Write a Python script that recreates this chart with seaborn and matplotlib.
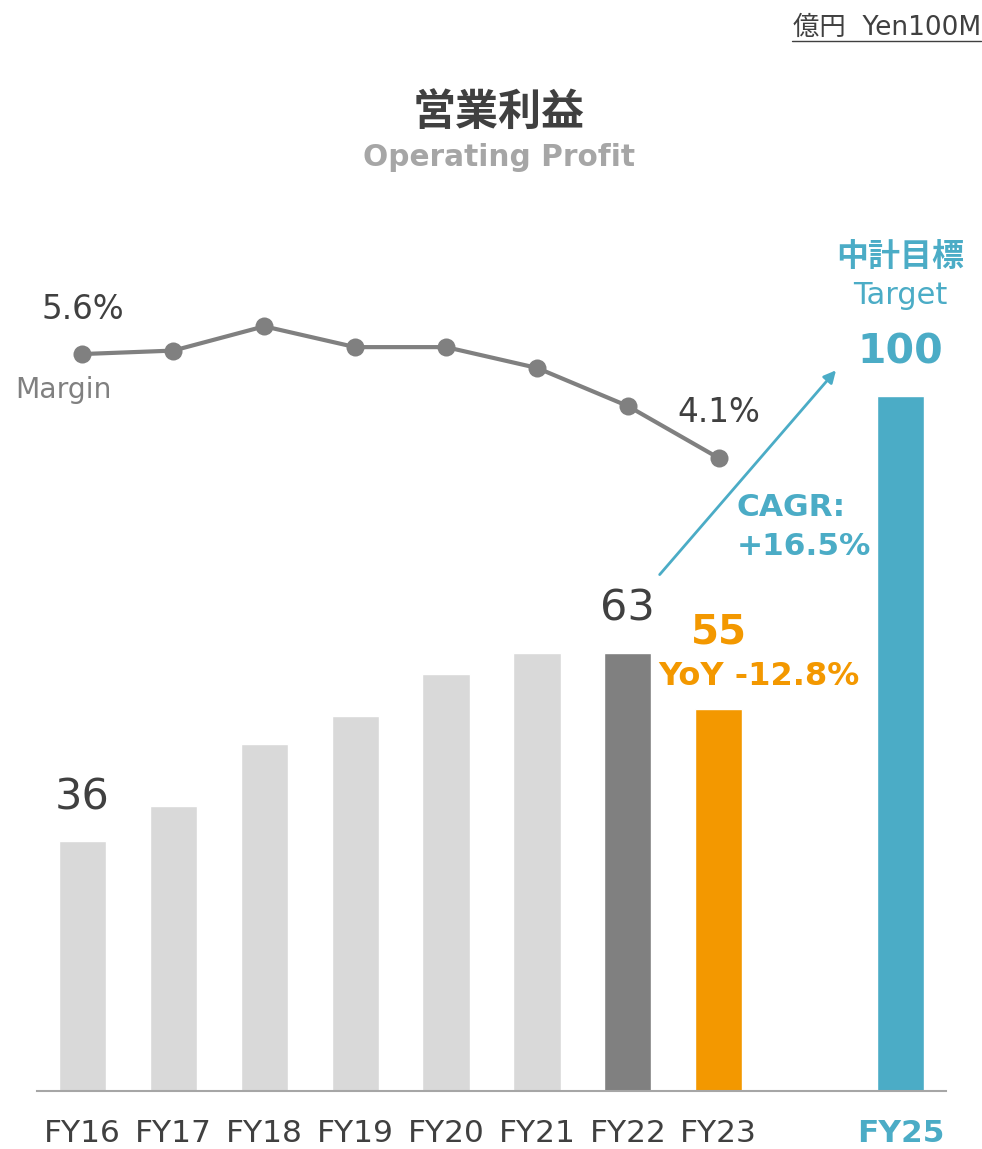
import pandas as pd
import matplotlib.pyplot as plt
import seaborn as sns

# data (億円 / %)
years = ['FY16', 'FY17', 'FY18', 'FY19', 'FY20', 'FY21', 'FY22', 'FY23', 'FY24', 'FY25']
profit = [36, 41, 50, 54, 60, 63, 63, 55, None, 100]
margin_years = ['FY16', 'FY17', 'FY18', 'FY19', 'FY20', 'FY21', 'FY22', 'FY23']
margin = [5.6, 5.65, 6.0, 5.7, 5.7, 5.4, 4.85, 4.1]
tick_labels = ['FY16', 'FY17', 'FY18', 'FY19', 'FY20', 'FY21', 'FY22', 'FY23', '', 'FY25']

LIGHT = '#d9d9d9'
GREY = '#808080'
ORANGE = '#f39800'
TEAL = '#4bacc6'
DARK = '#404040'

sns.set_style('white')
plt.rcParams['font.family'] = ['DejaVu Sans', 'Noto Sans CJK JP']

bar_colors = {y: LIGHT for y in years}
bar_colors['FY22'] = GREY
bar_colors['FY23'] = ORANGE
bar_colors['FY25'] = TEAL

df = pd.DataFrame({'Year': years, 'Profit': profit}).dropna()
dm = pd.DataFrame({'Year': margin_years, 'Margin': margin})

fig = plt.figure(figsize=(9.82, 11.49), dpi=100)
ax = fig.add_axes([37 / 982, 58 / 1149, 909 / 982, 891 / 1149])

sns.barplot(data=df, x='Year', y='Profit', order=years, hue='Year',
            palette=bar_colors, legend=False, width=0.52, saturation=1, ax=ax)
ax.set_xlim(-0.5, 9.5)
ax.set_ylim(0, 891 / 6.95)
ax.set_xlabel('')
ax.set_ylabel('')
ax.set_yticks([])
ax.set_xticks(range(len(years)))
ax.set_xticklabels(tick_labels, fontsize=22.5, color=DARK)
ax.tick_params(axis='x', length=0, pad=20)
lbl = ax.get_xticklabels()[-1]
lbl.set_color(TEAL)
lbl.set_fontweight('bold')
for s in ['top', 'left', 'right']:
    ax.spines[s].set_visible(False)
ax.spines['bottom'].set_color('#a6a6a6')
ax.spines['bottom'].set_linewidth(1.5)

# bar value labels
ax.text(0, 42.3, '36', ha='center', va='center', fontsize=31, color=DARK)
ax.text(6, 69.4, '63', ha='center', va='center', fontsize=31, color=DARK)
ax.text(7, 65.9, '55', ha='center', va='center', fontsize=29, color=ORANGE, fontweight='bold')
ax.text(7.44, 59.7, 'YoY -12.8%', ha='center', va='center', fontsize=23, color=ORANGE, fontweight='bold')
ax.text(9, 106.3, '100', ha='center', va='center', fontsize=29.5, color=TEAL, fontweight='bold')
ax.text(9, 114.4, 'Target', ha='center', va='center', fontsize=22, color=TEAL)
ax.text(9, 119.9, '中計目標', ha='center', va='center', fontsize=23, color=TEAL, fontweight='bold')
ax.text(7.2, 83.9, 'CAGR:', ha='left', va='center', fontsize=22.5, color=TEAL, fontweight='bold')
ax.text(7.2, 78.4, '+16.5%', ha='left', va='center', fontsize=22.5, color=TEAL, fontweight='bold')
ax.annotate('', xy=(8.31, 104), xytext=(6.33, 74),
            arrowprops=dict(arrowstyle='-|>', color=TEAL, lw=2, mutation_scale=18))

# margin line on its own scale
ax2 = ax.twinx()
sns.lineplot(data=dm, x='Year', y='Margin', color=GREY, linewidth=3,
             marker='o', markersize=13, markeredgewidth=0, ax=ax2)
ax2.set_xlim(-0.5, 9.5)
ax2.set_ylim(-348.7 / 69.33, (891 - 348.7) / 69.33)
ax2.set_yticks([])
ax2.set_xlabel('')
ax2.set_ylabel('')
for s in ax2.spines.values():
    s.set_visible(False)
ax2.text(0, 6.24, '5.6%', ha='center', va='center', fontsize=23.5, color=DARK)
ax2.text(7, 4.76, '4.1%', ha='center', va='center', fontsize=23.5, color=DARK)
ax2.text(-0.21, 5.08, 'Margin', ha='center', va='center', fontsize=20.3, color=GREY)

# titles
fig.text(499 / 982, 1 - 113 / 1149, '営業利益', ha='center', va='center',
         fontsize=31, fontweight='bold', color=DARK)
fig.text(499 / 982, 1 - 157 / 1149, 'Operating Profit', ha='center', va='center',
         fontsize=21.3, fontweight='bold', color='#a6a6a6')
fig.text(981 / 982, 1 - 28 / 1149, '億円  Yen100M', ha='right', va='center',
         fontsize=19, color=DARK)
fig.add_artist(plt.Line2D([792 / 982, 981 / 982], [1 - 41 / 1149, 1 - 41 / 1149],
                          color=DARK, linewidth=1))

fig.savefig('out.png', dpi=100)
